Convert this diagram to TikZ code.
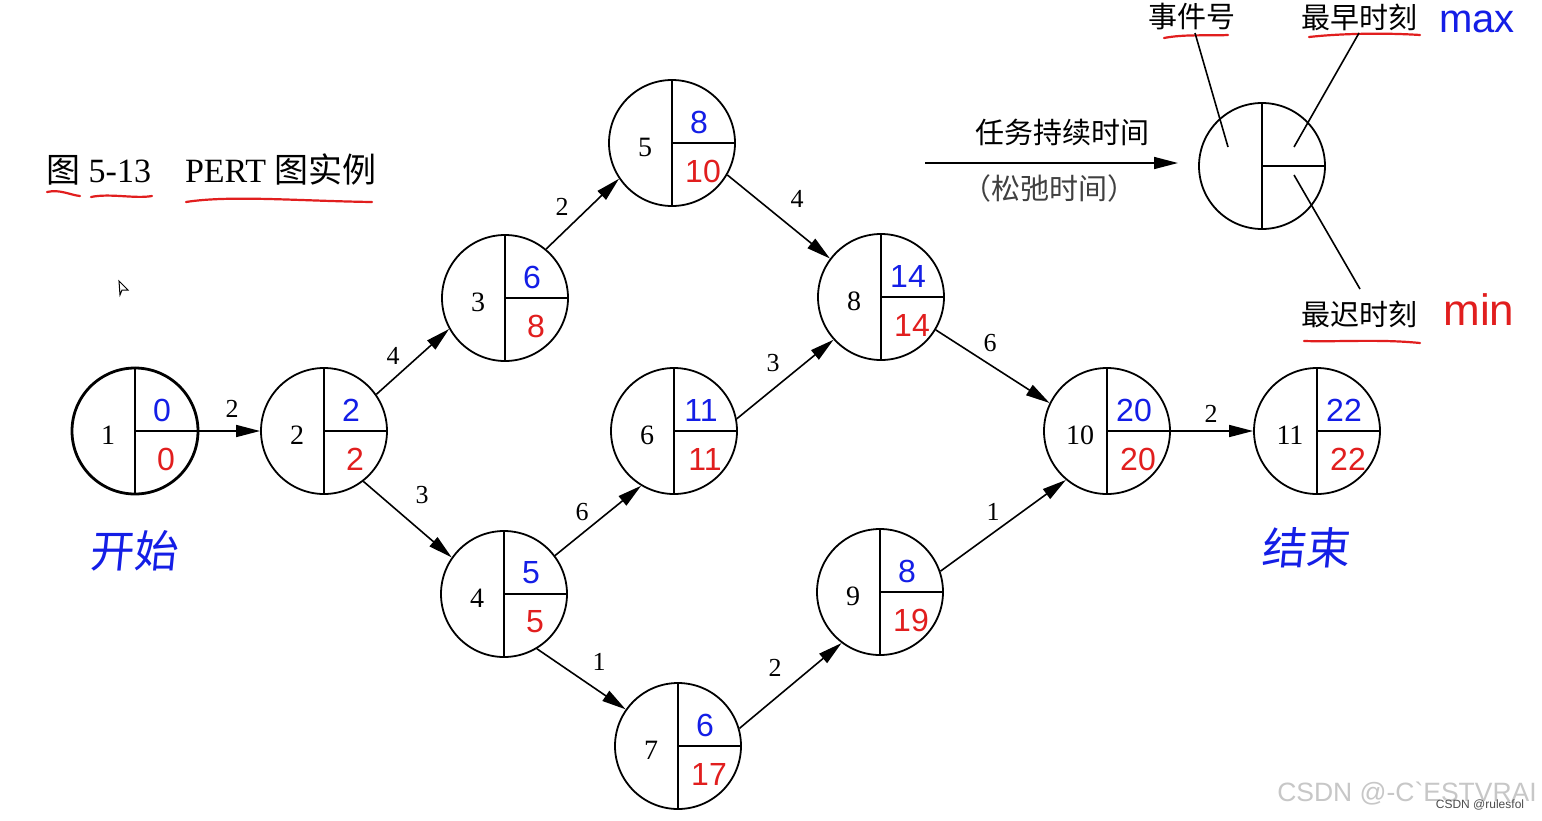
\documentclass[tikz,border=0pt]{standalone}
\usepackage{fontspec}
\setmainfont{Liberation Serif}
\newfontfamily\cjk{Noto Sans CJK SC}
\newfontfamily\hand{Liberation Sans}
\usetikzlibrary{arrows.meta}
\definecolor{handblue}{RGB}{20,30,230}
\definecolor{handred}{RGB}{225,30,30}
\newcommand\pertnode[7][]{% opts, name, x, y, id, early, late
  \node[ev,#1] (#2) at (#3,#4) {};
  \draw[inner] (#2.north) -- (#2.south);
  \draw[inner] (#2.center) -- (#2.east);
  \node[num] (#2-id) at (#3-27,#4+4) {#5};
  \node[early] (#2-e) at (#3+27,#4-21) {#6};
  \node[late] (#2-l) at (#3+31,#4+28) {#7};
}
\begin{document}
\begin{tikzpicture}[x=1pt,y=-1pt,
  ev/.style={circle,draw,line width=1.8pt,minimum size=126pt,inner sep=0pt},
  inner/.style={line width=1.8pt},
  num/.style={font=\fontsize{28}{30}\selectfont,inner sep=0pt},
  early/.style={text=handblue,font=\hand\fontsize{32}{34}\selectfont,inner sep=0pt},
  late/.style={text=handred,font=\hand\fontsize{32}{34}\selectfont,inner sep=0pt},
  conn/.style={line width=1.6pt,-{Triangle[length=24pt,width=12pt]}},
  elabel/.style={font=\fontsize{26}{28}\selectfont,inner sep=0pt},
  ul/.style={draw=handred,line width=2.2pt,line cap=round},
  cjktext/.style={font=\cjk\fontsize{29}{32}\selectfont,inner sep=0pt},
  pointer/.style={line width=1.6pt}
]
\useasboundingbox (0,0) rectangle (1542,820);
\fill[white] (0,0) rectangle (1542,820);

% title
\node[anchor=west,inner sep=0pt,font=\fontsize{34}{36}\selectfont] (title) at (46,169)
  {{\cjk 图} 5-13\quad PERT {\cjk 图实例}};
\draw[ul] (47,192) .. controls (60,189) and (70,195) .. (80,196);
\draw[ul] (91,197) .. controls (110,193) and (135,199) .. (152,196);
\draw[ul] (186,202) .. controls (230,195) and (300,201) .. (372,202);

% cursor
\draw[line width=1pt] (119,281) -- (128,290) -- (122,290) -- (120,295) -- cycle;

% nodes
\pertnode[line width=2.8pt]{n1}{135}{431}{1}{0}{0}
\pertnode{n2}{324}{431}{2}{2}{2}
\pertnode{n3}{505}{298}{3}{6}{8}
\pertnode{n4}{504}{594}{4}{5}{5}
\pertnode{n5}{672}{143}{5}{8}{10}
\pertnode{n6}{674}{431}{6}{11}{11}
\pertnode{n7}{678}{746}{7}{6}{17}
\pertnode{n8}{881}{297}{8}{14}{14}
\pertnode{n9}{880}{592}{9}{8}{19}
\pertnode{n10}{1107}{431}{10}{20}{20}
\pertnode{n11}{1317}{431}{11}{22}{22}

% edges
\draw[conn] (n1.east) -- (n2.west);
\draw[conn] (n2.35) -- (n3.209);
\draw[conn] (n2.308) -- (n4.145);
\draw[conn] (n3.50) -- (n5.214);
\draw[conn] (n4.37) -- (n6.239);
\draw[conn] (n4.301) -- (n7.145);
\draw[conn] (n5.330) -- (n8.143);
\draw[conn] (n6.11) -- (n8.222);
\draw[conn] (n7.16) -- (n9.233);
\draw[conn] (n8.329) -- (n10.154);
\draw[conn] (n9.19) -- (n10.230);
\draw[conn] (n10.east) -- (n11.west);

% edge labels
\node[elabel] (l12) at (232,409) {2};
\node[elabel] (l23) at (393,356) {4};
\node[elabel] (l24) at (422,495) {3};
\node[elabel] (l35) at (562,207) {2};
\node[elabel] (l46) at (582,512) {6};
\node[elabel] (l47) at (599,662) {1};
\node[elabel] (l58) at (797,199) {4};
\node[elabel] (l68) at (773,363) {3};
\node[elabel] (l79) at (775,668) {2};
\node[elabel] (l810) at (990,343) {6};
\node[elabel] (l910) at (993,512) {1};
\node[elabel] (l1011) at (1211,414) {2};

% handwritten start / end
\node[text=handblue,font=\cjk\fontsize{44}{46}\selectfont,inner sep=0pt,xslant=0.1] (start) at (135,551) {开始};
\node[text=handblue,font=\cjk\fontsize{44}{46}\selectfont,inner sep=0pt,xslant=0.1] (end) at (1307,548) {结束};

% legend
\node[ev] (lg) at (1262,166) {};
\draw[inner] (lg.north) -- (lg.south);
\draw[inner] (lg.center) -- (lg.east);
\coordinate (la) at (925,163);
\coordinate (lb) at (1178,163);
\draw[conn] (la) -- (lb);
\node[cjktext] (dur) at (1062,132) {任务持续时间};
\node[cjktext,text=black!75] (slack) at (1049,188) {（松弛时间）};

\node[cjktext] (evt) at (1192,17) {事件号};
\node[cjktext] (es) at (1359,17) {最早时刻};
\node[cjktext] (ls) at (1359,314) {最迟时刻};
\node[text=handblue,font=\hand\fontsize{40}{42}\selectfont,inner sep=0pt] (max) at (1477,22) {max};
\node[text=handred,font=\hand\fontsize{44}{46}\selectfont,inner sep=0pt] (min) at (1479,310) {min};

\draw[ul] (1164,38) .. controls (1185,34) and (1205,36) .. (1228,35);
\draw[ul] (1309,37) .. controls (1345,33) and (1390,33) .. (1420,35);
\draw[ul] (1304,341) .. controls (1340,342) and (1380,339) .. (1420,343);

\coordinate (p1a) at (1195,33);
\coordinate (p1b) at (1228,147);
\coordinate (p2a) at (1359,33);
\coordinate (p2b) at (1294,147);
\coordinate (p3a) at (1294,175);
\coordinate (p3b) at (1360,289);
\draw[pointer] (p1a) -- (p1b);
\draw[pointer] (p2a) -- (p2b);
\draw[pointer] (p3a) -- (p3b);

% watermark
\node[text=black!22,font=\hand\fontsize{26.5}{28}\selectfont,inner sep=0pt] (wm) at (1407,794) {CSDN @-C\textasciigrave ESTVRAI};
\node[text=black!70,font=\hand\fontsize{12}{13}\selectfont,inner sep=0pt] (wm2) at (1480,805) {CSDN @rulesfol};
\end{tikzpicture}
\end{document}
